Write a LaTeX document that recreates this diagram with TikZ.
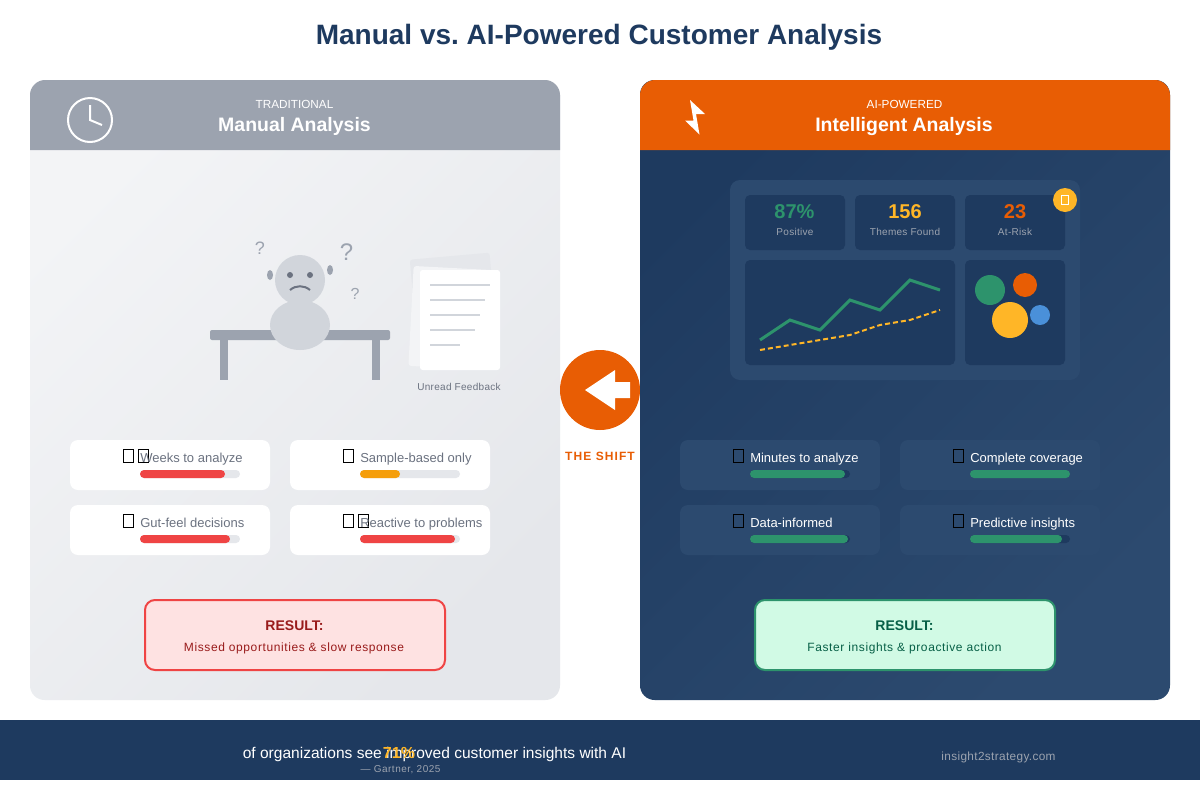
\documentclass[tikz,border=0pt]{standalone}
\usepackage{fontspec}
\setmainfont{Liberation Sans}
\newfontfamily\wideface[LetterSpace=3]{Liberation Sans}
\newfontfamily\outface[LetterSpace=5]{Liberation Sans}
\newfontfamily\shiftface[LetterSpace=9]{Liberation Sans}
\usetikzlibrary{positioning}
\definecolor{navy}{HTML}{1E3A5F}
\definecolor{navylight}{HTML}{2C4A6F}
\definecolor{flame}{HTML}{E85D04}
\definecolor{amber}{HTML}{FFB627}
\definecolor{teal}{HTML}{2D936C}
\definecolor{sky}{HTML}{4A90D9}
\definecolor{slate}{HTML}{9CA3AF}
\definecolor{slatedark}{HTML}{6B7280}
\definecolor{slatelight}{HTML}{D1D5DB}
\definecolor{mist}{HTML}{E5E7EB}
\definecolor{fog}{HTML}{F3F4F6}
\definecolor{alert}{HTML}{EF4444}
\definecolor{alertpale}{HTML}{FEE2E2}
\definecolor{alertdark}{HTML}{991B1B}
\definecolor{mint}{HTML}{D1FAE5}
\definecolor{mintdark}{HTML}{065F46}
\definecolor{warn}{HTML}{F59E0B}
\tikzset{
	card/.style={fill=#1, rounded corners=6pt},
	bar/.style={fill=#1, rounded corners=3pt},
	tofu/.style={draw=black, line width=.7pt, inner sep=0pt, minimum width=7.5pt, minimum height=9.5pt, anchor=north west},
	fealabel/.style={anchor=base west, inner sep=0pt, font=\fontsize{9.75pt}{12pt}\selectfont},
	statnum/.style={inner sep=0pt, font=\fontsize{15pt}{18pt}\selectfont\bfseries},
	statcap/.style={inner sep=0pt, text=slate, font=\fontsize{7.5pt}{9pt}\selectfont\wideface},
	quiz/.style={inner sep=0pt, text=slate},
	sheet/.style={fill=#1, minimum width=60pt, minimum height=75pt, inner sep=0pt, rounded corners=2pt},
	docline/.style={draw=slatelight, line width=1.5pt},
	hand/.style={draw=white, line width=1.5pt},
}
\frenchspacing
\begin{document}
\begin{tikzpicture}[x=.75pt, y=-.75pt]
	\useasboundingbox (0,0) rectangle (1200,800);
	\fill[white] (0,0) rectangle (1200,800);
	\node[text=navy, inner sep=0pt, font=\fontsize{21pt}{25pt}\selectfont\bfseries] (title) at (599,37) {Manual vs. AI-Powered Customer Analysis};

	% left panel
	\shade[rounded corners=11pt, top color=fog, bottom color=mist, shading angle=45] (30,80) rectangle (560,700);
	\fill[slate] (30,150) -- (30,95) .. controls (30,87) and (37,80) .. (45,80) -- (545,80) .. controls (553,80) and (560,87) .. (560,95) -- (560,150) -- cycle;
	\draw[hand] (90,120) circle (22);
	\draw[hand] (90,105) -- (90,120) -- (102,125);
	\node[text=white, inner sep=0pt, font=\fontsize{8.8pt}{11pt}\selectfont] (lefttag) at (294.5,104.5) {TRADITIONAL};
	\node[text=white, inner sep=0pt, font=\fontsize{14.6pt}{18pt}\selectfont\bfseries] (lefthead) at (294.5,126.5) {Manual Analysis};

	% desk and person
	\fill[slate, rounded corners=1.5pt] (210,330) rectangle (390,340);
	\fill[slate] (220,340) rectangle (228,380);
	\fill[slate] (372,340) rectangle (380,380);
	\fill[slatelight] (300,280) circle (25);
	\fill[slatelight] (300,325) ellipse (30 and 25);
	\fill[slate] (270,275) ellipse (3 and 5);
	\fill[slate] (330,270) ellipse (3 and 5);
	\fill[slatedark] (290,275) circle (3);
	\fill[slatedark] (310,275) circle (3);
	\draw[slatedark, line width=1.5pt] (290,290) .. controls (296,285) and (304,285) .. (310,290);
	\node[quiz, font=\fontsize{13.5pt}{16pt}\selectfont] (quizone) at (260,248) {?};
	\node[quiz, font=\fontsize{18pt}{20pt}\selectfont] (quiztwo) at (346.5,252) {?};
	\node[quiz, font=\fontsize{12pt}{14pt}\selectfont] (quizthree) at (355,294) {?};

	% feedback sheets
	\node[sheet=mist, rotate=5] (sheetback) at (454,306) {};
	\node[sheet=fog, rotate=-3] (sheetmid) at (451,318) {};
	\node[sheet=white] (sheettop) at (460,320) {};
	\draw[docline] (430,285) -- (490,285);
	\draw[docline] (430,300) -- (485,300);
	\draw[docline] (430,315) -- (480,315);
	\draw[docline] (430,330) -- (475,330);
	\draw[docline] (430,345) -- (460,345);
	\node[text=slatedark, inner sep=0pt, font=\fontsize{7.5pt}{9pt}\selectfont\wideface] (unread) at (459,387) {Unread Feedback};

	% left features
	\fill[card=white] (70,440) rectangle (270,490);
	\fill[card=white] (290,440) rectangle (490,490);
	\fill[card=white] (70,505) rectangle (270,555);
	\fill[card=white] (290,505) rectangle (490,555);
	\node[tofu] (toolda) at (123,449) {};
	\node[tofu] (tooldb) at (138,449) {};
	\node[tofu] (tooldc) at (343,449) {};
	\node[tofu] (tooldd) at (123,514) {};
	\node[tofu] (toolde) at (343,514) {};
	\node[tofu] (tooldf) at (358,514) {};
	\node[fealabel, text=slatedark] (weeks) at (140,462) {Weeks to analyze};
	\node[fealabel, text=slatedark] (sample) at (360,462) {Sample-based only};
	\node[fealabel, text=slatedark] (gut) at (140,527) {Gut-feel decisions};
	\node[fealabel, text=slatedark] (reactive) at (360,527) {Reactive to problems};
	\fill[bar=mist] (140,470) rectangle (240,478);
	\fill[bar=alert] (140,470) rectangle (225,478);
	\fill[bar=mist] (360,470) rectangle (460,478);
	\fill[bar=warn] (360,470) rectangle (400,478);
	\fill[bar=mist] (140,535) rectangle (240,543);
	\fill[bar=alert] (140,535) rectangle (230,543);
	\fill[bar=mist] (360,535) rectangle (460,543);
	\fill[bar=alert] (360,535) rectangle (455,543);

	% left result
	\draw[draw=alert, fill=alertpale, line width=1.5pt, rounded corners=7.5pt] (145,600) rectangle (445,670);
	\node[text=alertdark, inner sep=0pt, font=\fontsize{10.5pt}{12pt}\selectfont\bfseries] (leftres) at (294.5,625.5) {RESULT:};
	\node[text=alertdark, inner sep=0pt, font=\fontsize{9pt}{11pt}\selectfont\outface] (leftout) at (294,648.5) {Missed opportunities \& slow response};

	% shift
	\node[circle, fill=flame, minimum size=60pt, inner sep=0pt] (shift) at (600,390) {};
	\fill[white] (585,390) -- (615,370) -- (615,382) -- (630,382) -- (630,398) -- (615,398) -- (615,410) -- cycle;
	\node[text=flame, inner sep=0pt, below=16pt of shift, font=\fontsize{9pt}{11pt}\selectfont\bfseries\shiftface] (shiftlabel) {THE SHIFT};

	% right panel
	\shade[rounded corners=11pt, top color=navy, bottom color=navylight, shading angle=45] (640,80) rectangle (1170,700);
	\fill[flame] (640,150) -- (640,95) .. controls (640,87) and (647,80) .. (655,80) -- (1155,80) .. controls (1163,80) and (1170,87) .. (1170,95) -- (1170,150) -- cycle;
	\fill[white] (690,100) -- (705,114) -- (696,114) -- (699.5,134.5) -- (685,120.5) -- (693.5,120.5) -- cycle;
	\node[text=white, inner sep=0pt, font=\fontsize{8.8pt}{11pt}\selectfont] (righttag) at (904.5,104.5) {AI-POWERED};
	\node[text=white, inner sep=0pt, font=\fontsize{14.6pt}{18pt}\selectfont\bfseries] (righthead) at (904,126.5) {Intelligent Analysis};

	% dashboard
	\fill[navylight, rounded corners=7.5pt] (730,180) rectangle (1080,380);
	\fill[card=navy, rounded corners=3.75pt] (745,195) rectangle (845,250);
	\fill[card=navy, rounded corners=3.75pt] (855,195) rectangle (955,250);
	\fill[card=navy, rounded corners=3.75pt] (965,195) rectangle (1065,250);
	\fill[card=navy, rounded corners=3.75pt] (745,260) rectangle (955,365);
	\fill[card=navy, rounded corners=3.75pt] (965,260) rectangle (1065,365);
	\node[statnum, text=teal] (positive) at (794.5,212) {87\%};
	\node[statcap] (positivecap) at (795,231.5) {Positive};
	\node[statnum, text=amber] (themes) at (905,212) {156};
	\node[statcap] (themescap) at (905,231.5) {Themes Found};
	\node[statnum, text=flame] (risk) at (1015,212) {23};
	\node[statcap] (riskcap) at (1015,231.5) {At-Risk};
	\node[circle, fill=amber, minimum size=18pt, inner sep=0pt] (badge) at (1065,200) {};
	\node[draw=white, line width=.7pt, inner sep=0pt, minimum width=5pt, minimum height=7pt] (badgeglyph) at (badge) {};
	\draw[teal, line width=2.25pt] (760,340) -- (790,320) -- (820,330) -- (850,300) -- (880,310) -- (910,280) -- (940,290);
	\draw[amber, line width=1.5pt, dash pattern=on 3.75pt off 2.25pt] (760,350) -- (790,345) -- (820,340) -- (850,335) -- (880,325) -- (910,320) -- (940,310);
	\fill[teal] (990,290) circle (15);
	\fill[flame] (1025,285) circle (12);
	\fill[amber] (1010,320) circle (18);
	\fill[sky] (1040,315) circle (10);

	% right features
	\fill[card=navylight] (680,440) rectangle (880,490);
	\fill[card=navylight] (900,440) rectangle (1100,490);
	\fill[card=navylight] (680,505) rectangle (880,555);
	\fill[card=navylight] (900,505) rectangle (1100,555);
	\node[tofu] (toolra) at (733,449) {};
	\node[tofu] (toolrb) at (953,449) {};
	\node[tofu] (toolrc) at (733,514) {};
	\node[tofu] (toolrd) at (953,514) {};
	\node[fealabel, text=white] (minutes) at (750,462) {Minutes to analyze};
	\node[fealabel, text=white] (complete) at (970,462) {Complete coverage};
	\node[fealabel, text=white] (informed) at (750,527) {Data-informed};
	\node[fealabel, text=white] (predictive) at (970,527) {Predictive insights};
	\fill[bar=navy] (750,470) rectangle (850,478);
	\fill[bar=teal] (750,470) rectangle (845,478);
	\fill[bar=teal] (970,470) rectangle (1070,478);
	\fill[bar=navy] (750,535) rectangle (850,543);
	\fill[bar=teal] (750,535) rectangle (848,543);
	\fill[bar=navy] (970,535) rectangle (1070,543);
	\fill[bar=teal] (970,535) rectangle (1062,543);

	% right result
	\draw[draw=teal, fill=mint, line width=1.5pt, rounded corners=7.5pt] (755,600) rectangle (1055,670);
	\node[text=mintdark, inner sep=0pt, font=\fontsize{10.5pt}{12pt}\selectfont\bfseries] (rightres) at (904.5,625.5) {RESULT:};
	\node[text=mintdark, inner sep=0pt, font=\fontsize{9pt}{11pt}\selectfont\outface] (rightout) at (904.5,648.5) {Faster insights \& proactive action};

	% footer
	\fill[navy] (0,720) rectangle (1200,780);
	\node[text=white, inner sep=0pt, font=\fontsize{11.65pt}{14pt}\selectfont] (stat) at (434.5,754) {of organizations see improved customer insights with AI};
	\node[text=amber, inner sep=0pt, font=\fontsize{12pt}{16pt}\selectfont\bfseries] (statnum) at (399,753) {71\%};
	\node[text=slate, inner sep=0pt, font=\fontsize{7.5pt}{9pt}\selectfont\outface] (source) at (400.5,769.5) {— Gartner, 2025};
	\node[text=slate, inner sep=0pt, font=\fontsize{8.85pt}{11pt}\selectfont\wideface] (site) at (998.5,757) {insight2strategy.com};
\end{tikzpicture}
\end{document}
